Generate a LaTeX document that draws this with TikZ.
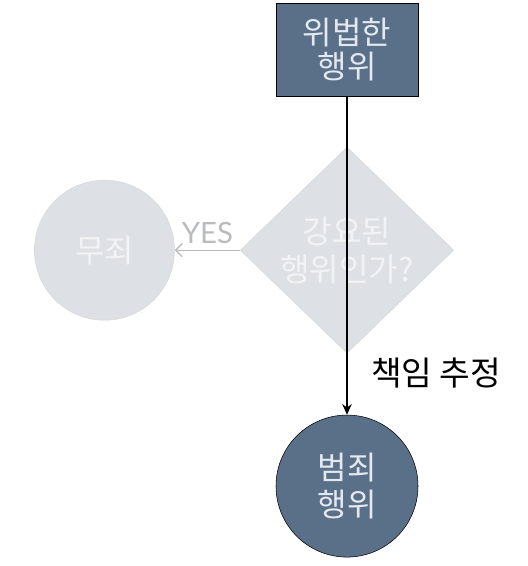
\documentclass[tikz,border=0pt]{standalone}
\usepackage{fontspec}
\usepackage{xcolor}
\usepackage{tikz}
\usetikzlibrary{calc}
\usetikzlibrary{positioning}
\usetikzlibrary{shapes.geometric}
\usetikzlibrary{arrows.meta}

\newfontfamily\kr{Noto Sans CJK KR}
\newfontfamily\yesfont{Lato}

\definecolor{slate}{HTML}{5A7089}
\definecolor{slatetext}{HTML}{E4E9EF}
\definecolor{paleq}{HTML}{DDE1E6}
\definecolor{paleedge}{HTML}{D3D7DB}
\definecolor{paletext}{HTML}{F1F3F5}
\definecolor{yesgray}{HTML}{B9BBBD}

\begin{document}
\begin{tikzpicture}[x=0.75pt, y=-0.75pt]

        \def\d{38pt}
        \def\h{46pt}
        \def\w{49pt}

        % fixed page size, same as the reference
        \useasboundingbox (0,0) rectangle (527,566);

        \tikzset{
            actbox/.style={rectangle, draw=black, fill=slate, text=slatetext,
                minimum width=106.5pt, minimum height=69.75pt,
                align=center, font=\kr\fontsize{24}{26}\selectfont},
            askbox/.style={diamond, draw=paleedge, fill=paleq, text=paletext,
                minimum width=160pt, minimum height=154.5pt, inner sep=0pt,
                align=center, font=\kr\fontsize{24}{28.5}\selectfont},
            endcirc/.style={circle, draw=black, fill=slate, text=slatetext,
                minimum size=106.5pt, inner sep=0pt,
                align=center, font=\kr\fontsize{24}{28}\selectfont},
            palecirc/.style={circle, draw=paleedge, fill=paleq, text=paletext,
                minimum size=105pt, inner sep=0pt,
                align=center, font=\kr\fontsize{24}{28}\selectfont}
        }

        % Scope used to place the boxes
        \begin{scope}
            \node[actbox] (act) at (347, 49.5) {위법한\\행위};
            \node[askbox] (ask) [below=\d of act] {강요된\\행위인가?};
            \node[endcirc] (crime) [below=\h of ask] {범죄\\행위};
            \node[palecirc] (innocent) [left=\w of ask] {무죄};
        \end{scope}

        \begin{scope}
            \draw[yesgray, line width=1pt, -{Straight Barb[length=5pt]}] (ask) -- (innocent)
                node[midway, above=1pt, text=yesgray,
                     font=\yesfont\fontsize{22}{24}\selectfont] (yes) {YES};
            \draw[black, line width=1.4pt, -{Stealth[length=8pt, width=7pt]}] (act) -- (crime)
                node[pos=0.87, anchor=west, xshift=14pt, text=black,
                     font=\kr\fontsize{25}{28}\selectfont] (guess) {책임 추정};
        \end{scope}

\end{tikzpicture}
\end{document}
